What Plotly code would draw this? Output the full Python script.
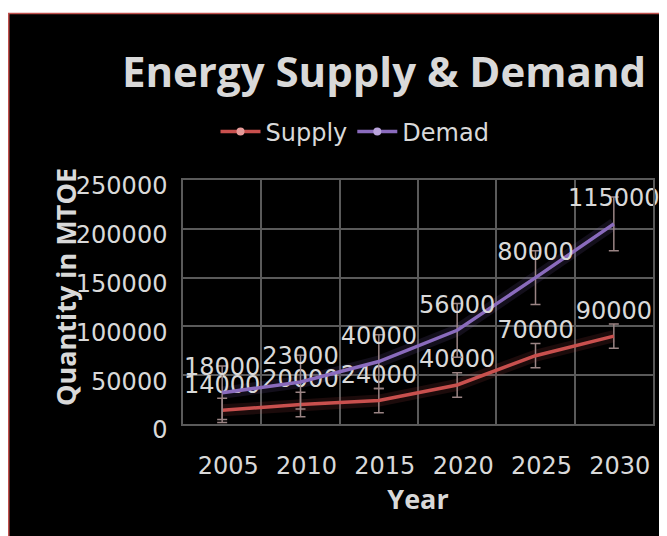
import numpy as np
import plotly.graph_objects as go

years = ["2005", "2010", "2015", "2020", "2025", "2030"]
supply = [14000, 20000, 24000, 40000, 70000, 90000]
demand = [18000, 23000, 40000, 56000, 80000, 115000]
y_ticks = [0, 50000, 100000, 150000, 200000, 250000]

supply_arr = np.array(supply, dtype=float)
demand_stacked = supply_arr + np.array(demand, dtype=float)  # stacked line chart


def std_err(v):
    v = np.asarray(v, dtype=float)
    return float(np.std(v, ddof=1) / np.sqrt(len(v)))


SUP_C = "#c9504e"
DEM_C = "#8a6bbd"
TXT = "#d9d9d9"
GRID = "#5a5a5a"
ERR_C = "#9a8484"
FONT = "DejaVu Sans"
BFONT = "Open Sans"

fig = go.Figure()

# glow underlays
for yv, col in [(supply_arr, "rgba(201,80,78,0.14)"), (demand_stacked, "rgba(138,107,189,0.14)")]:
    fig.add_trace(go.Scatter(x=years, y=yv, mode="lines", line=dict(color=col, width=12),
                             showlegend=False, hoverinfo="skip"))

fig.add_trace(go.Scatter(
    x=years, y=supply_arr, mode="lines+markers+text", name="Supply",
    line=dict(color=SUP_C, width=3.5),
    marker=dict(size=17, color="rgba(0,0,0,0)"),
    text=[str(v) for v in supply], textposition="top center",
    textfont=dict(family=FONT, size=24, color=TXT),
    error_y=dict(type="constant", value=std_err(supply_arr), color=ERR_C, thickness=1.5, width=5),
    showlegend=False, cliponaxis=False,
))
fig.add_trace(go.Scatter(
    x=years, y=demand_stacked, mode="lines+markers+text", name="Demad",
    line=dict(color=DEM_C, width=3.5),
    marker=dict(size=17, color="rgba(0,0,0,0)"),
    text=[str(v) for v in demand], textposition="top center",
    textfont=dict(family=FONT, size=24, color=TXT),
    error_y=dict(type="constant", value=std_err(demand_stacked), color=ERR_C, thickness=1.5, width=5),
    showlegend=False, cliponaxis=False,
))

# legend entries
fig.add_trace(go.Scatter(x=[None], y=[None], mode="lines+markers", name="Supply",
                         line=dict(color=SUP_C, width=3.5), marker=dict(size=8, color="#e69a98")))
fig.add_trace(go.Scatter(x=[None], y=[None], mode="lines+markers", name="Demad",
                         line=dict(color=DEM_C, width=3.5), marker=dict(size=8, color="#b9a3dc")))

# figure-space pixel layout (page is offset by 8px body margin)
L, R, T, B = 175, 22, 172, 120
W, H = 667, 536
pw, ph = W - L - R, H - T - B

def px_to_paper_x(px):
    return (px - L) / pw

def px_to_paper_y(py):
    return (H - B - py) / ph

fig.add_shape(type="rect", xref="paper", yref="paper",
              x0=px_to_paper_x(0.75), x1=px_to_paper_x(700), y0=px_to_paper_y(600), y1=px_to_paper_y(5.5),
              fillcolor="black", line=dict(color="#c0504d", width=1.5), layer="below")

fig.add_annotation(text="<b>Quantity in MTOE</b>", textangle=-90, showarrow=False,
                   xref="paper", yref="paper", x=px_to_paper_x(57), y=px_to_paper_y(279),
                   xanchor="center", yanchor="middle",
                   font=dict(family=BFONT, size=27, color=TXT))

fig.update_layout(
    width=W, height=H,
    margin=dict(l=L, r=R, t=T, b=B),
    paper_bgcolor="white", plot_bgcolor="rgba(0,0,0,0)",
    font=dict(family=FONT, size=24, color=TXT),
    title=dict(text="<b>Energy Supply & Demand</b>", x=376 / W, xanchor="center", xref="container",
               y=1 - 64 / H, yanchor="middle", yref="container",
               font=dict(family=BFONT, size=42, color=TXT)),
    legend=dict(orientation="h", x=px_to_paper_x(347), xanchor="center", y=px_to_paper_y(124),
                yanchor="middle", font=dict(family=FONT, size=24, color=TXT),
                bgcolor="rgba(0,0,0,0)", itemwidth=40, tracegroupgap=0),
    showlegend=True,
)
fig.update_xaxes(type="category", range=[-0.5, 5.5], tickson="boundaries",
                 showgrid=True, gridcolor=GRID, gridwidth=1.5,
                 showline=True, linecolor=GRID, linewidth=1.5, mirror=True,
                 ticks="", ticklabelstandoff=19, ticklabelshift=6,
                 tickfont=dict(family=FONT, size=24, color=TXT),
                 title=dict(text="<b>Year</b>", font=dict(family=BFONT, size=27, color=TXT), standoff=6),
                 zeroline=False, fixedrange=True)
fig.update_yaxes(range=[0, 250000], tickvals=y_ticks, ticktext=[str(v) for v in y_ticks],
                 showgrid=True, gridcolor=GRID, gridwidth=1.5,
                 showline=True, linecolor=GRID, linewidth=1.5, mirror=True,
                 ticks="", ticklabelstandoff=9, ticklabelshift=6,
                 tickfont=dict(family=FONT, size=24, color=TXT),
                 zeroline=False, fixedrange=True)

fig.write_html("out.html")
